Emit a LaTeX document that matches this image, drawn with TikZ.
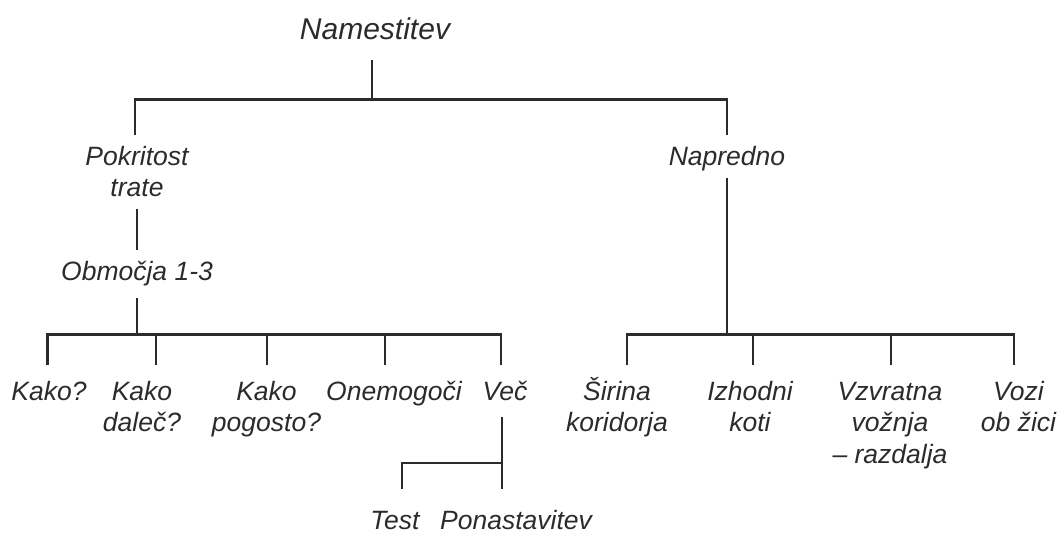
\documentclass[tikz,border=0pt]{standalone}
\usepackage{fontspec}
\setmainfont{Liberation Sans}
\usepackage{xcolor}
\definecolor{cInk}{HTML}{2B2B2B}

\begin{document}
\begin{tikzpicture}[
    x=0.5pt, y=-0.5pt,
    font=\fontsize{13.25}{15.7}\selectfont\itshape,
    lbl/.style={anchor=base, align=center, inner sep=0pt, outer xsep=0pt,
                outer ysep=6pt, text height=9.5pt, text=cInk},
    rootlbl/.style={lbl, font=\fontsize{15}{18}\selectfont\itshape,
                    outer ysep=10pt},
    leaf/.style={lbl, outer ysep=8pt},
    two/.style={text height=25.2pt},
    three/.style={text height=40.9pt},
    link/.style={draw=cInk, line width=1.4pt},
]
\useasboundingbox (0,0) rectangle (1061,533);

% ================================================================
%  Nodes (multi-line ones sit on the baseline of their last line)
% ================================================================

\node[rootlbl] (root) at (375,39.9) {Namestitev};

\node[lbl, two] (pokr) at (137,197) {Pokritost\\trate};
\node[lbl, text depth=0pt] (napr) at (727,166) {Napredno};
\node[lbl] (obm) at (137,280.6) {Območja 1-3};

% left leaves
\node[leaf] (kako)         at (49,400.4)    {Kako?};
\node[leaf, two] (dalec)   at (142,431.8)   {Kako\\daleč?};
\node[leaf, two] (pogosto) at (266.5,431.8) {Kako\\pogosto?};
\node[leaf] (onem)         at (394,400.4)   {Onemogoči};
\node[leaf] (vec)          at (505,400.4)   {Več};

\node[leaf, outer ysep=11pt] (test)   at (395,530) {Test};
\node[leaf, outer ysep=11pt] (ponast) at (516,530) {Ponastavitev};

% right leaves
\node[leaf, two] (sirina) at (617,431.8)    {Širina\\koridorja};
\node[leaf, two] (izhod)  at (750,431.8)    {Izhodni\\koti};
\node[leaf, three] (vzvr) at (890,463.2)    {Vzvratna\\vožnja\\– razdalja};
\node[leaf, two] (vozi)   at (1018.5,431.8) {Vozi\\ob žici};

% ================================================================
%  Branch points
% ================================================================

\coordinate (j-root) at (372,99.7);
\coordinate (j-pokr) at (135,99.7);
\coordinate (j-napr) at (727,99.7);

\coordinate (b-kako)    at (47.3,334.8);
\coordinate (b-dalec)   at (156,334.8);
\coordinate (b-pogosto) at (267,334.8);
\coordinate (b-onem)    at (385,334.8);
\coordinate (b-vec)     at (501,334.8);

\coordinate (b-sirina) at (627,334.8);
\coordinate (b-izhod)  at (753,334.8);
\coordinate (b-vzvr)   at (891,334.8);
\coordinate (b-vozi)   at (1014,334.8);

\coordinate (b-test)   at (402,463);
\coordinate (b-ponast) at (502,463);

% ================================================================
%  Connectors
% ================================================================

\draw[link] (root.south -| j-root) -- (j-root);
\draw[link] (j-pokr |- pokr.north) -- (j-pokr) -- (j-napr) -- (j-napr |- napr.north);

\draw[link] (pokr) -- (obm);
\draw[link] (obm) -- (obm |- b-kako);
\draw[link] (b-kako |- kako.north) -- (b-kako) -- (b-vec) -- (b-vec |- vec.north);
\foreach \n in {dalec, pogosto, onem}
    \draw[link] (b-\n) -- (b-\n |- \n.north);

\draw[link] (napr) -- (napr |- b-sirina);
\draw[link] (b-sirina |- sirina.north) -- (b-sirina) -- (b-vozi) -- (b-vozi |- vozi.north);
\foreach \n in {izhod, vzvr}
    \draw[link] (b-\n) -- (b-\n |- \n.north);

% Vec -> Test / Ponastavitev
\draw[link] (vec.south -| b-ponast) -- (b-ponast |- ponast.north);
\draw[link] (b-test |- test.north) -- (b-test) -- (b-ponast);

\end{tikzpicture}
\end{document}
